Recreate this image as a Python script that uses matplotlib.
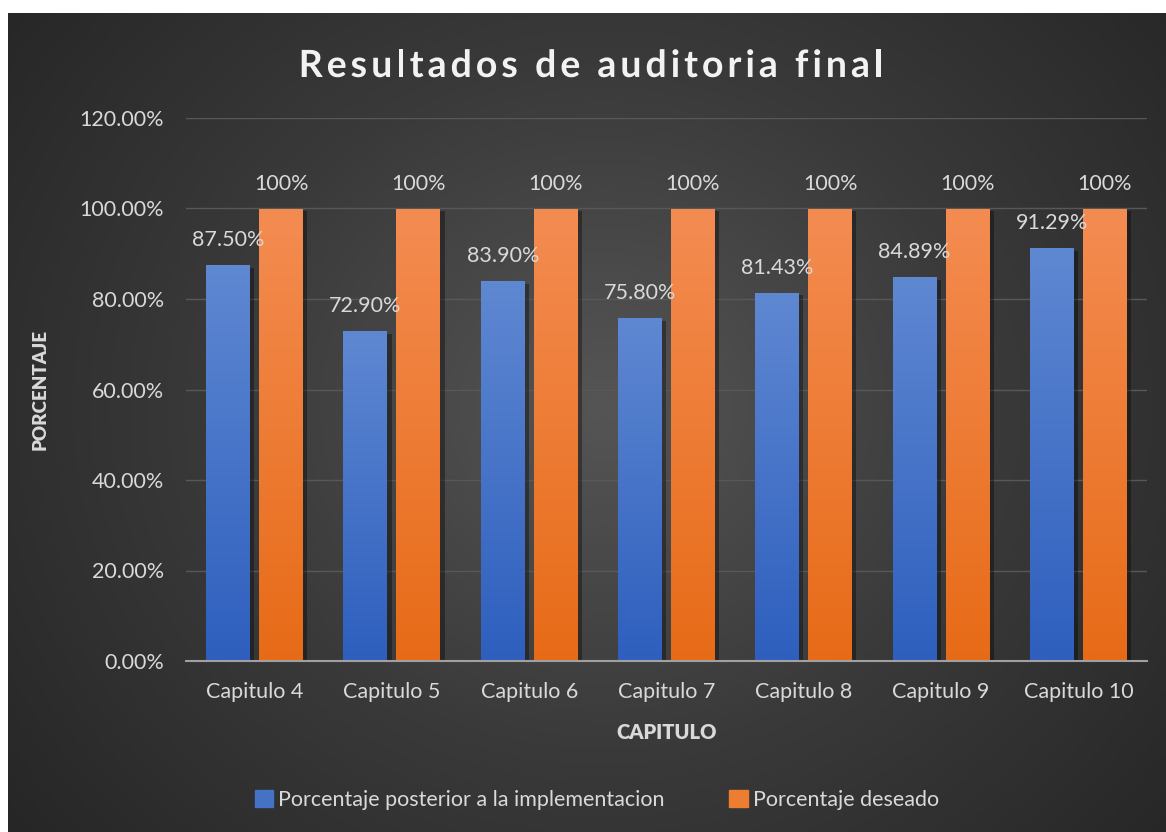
import matplotlib.pyplot as plt
import matplotlib.patheffects as pe
import numpy as np
from matplotlib.colors import LinearSegmentedColormap
from matplotlib.patches import Patch

plt.rcParams['font.family'] = ['Lato', 'DejaVu Sans']

# data
capitulos = ["Capitulo 4", "Capitulo 5", "Capitulo 6", "Capitulo 7",
             "Capitulo 8", "Capitulo 9", "Capitulo 10"]
posterior = [87.50, 72.90, 83.90, 75.80, 81.43, 84.89, 91.29]
deseado = [100, 100, 100, 100, 100, 100, 100]
yticks = [0, 20, 40, 60, 80, 100, 120]
titulo = "Resultados de auditoria final"

W, H = 1166, 832
TXT = "#d9d9d9"
FS = 15.5
fig = plt.figure(figsize=(W / 100, H / 100), dpi=100, facecolor="white")

# dark radial background
bg = fig.add_axes([8 / W, 0, 1 - 8 / W, 1 - 13 / H])
yy, xx = np.mgrid[0:1:300j, 0:1.4:420j]
r = np.sqrt((xx - 0.72) ** 2 + ((yy - 0.52) * 1.1) ** 2)
r = np.clip(r / r.max(), 0, 1)
bg_cmap = LinearSegmentedColormap.from_list("bg", ["#555555", "#3a3a3a", "#262626"])
bg.imshow(r, cmap=bg_cmap, aspect="auto", extent=[0, 1, 0, 1], origin="lower")
bg.set_axis_off()

ax = fig.add_axes([186 / W, 1 - 661 / H, (1147 - 186) / W, (661 - 118) / H])
ax.set_facecolor("none")

x = np.arange(len(capitulos))
off = 0.193
bw = 0.32
b1 = ax.bar(x - off, posterior, bw, color="#4472c4", zorder=3)
b2 = ax.bar(x + off, deseado, bw, color="#ed7d31", zorder=3)

blue_cm = LinearSegmentedColormap.from_list("b", ["#2e5fbe", "#5f88d2"])
orange_cm = LinearSegmentedColormap.from_list("o", ["#e76b17", "#f48c52"])
grad = np.linspace(0, 1, 256).reshape(-1, 1)
shadow = [pe.SimplePatchShadow(offset=(3, -2), shadow_rgbFace="black", alpha=0.35)]
for bars, cm in [(b1, blue_cm), (b2, orange_cm)]:
    for rect in bars:
        rect.set_path_effects(shadow)
        x0, y0 = rect.get_x(), rect.get_y()
        w, h = rect.get_width(), rect.get_height()
        im = ax.imshow(grad, cmap=cm, aspect="auto", origin="lower",
                       extent=[x0, x0 + w, y0, y0 + h], zorder=4)
        im.set_clip_path(rect)

for rect, v in zip(b1, posterior):
    ax.annotate(f"{v:.2f}%", (rect.get_x() + rect.get_width() / 2, v),
                xytext=(0, 18), textcoords="offset points", ha="center",
                va="center", color=TXT, fontsize=FS, zorder=6)
for rect, v in zip(b2, deseado):
    ax.annotate(f"{v}%", (rect.get_x() + rect.get_width() / 2, v),
                xytext=(0, 18), textcoords="offset points", ha="center",
                va="center", color=TXT, fontsize=FS, zorder=6)

ax.set_xlim(-0.5, len(capitulos) - 0.5)
ax.set_ylim(0, 120)
ax.set_yticks(yticks)
ax.set_yticklabels([f"{t:.2f}%" for t in yticks])
ax.set_xticks(x)
ax.set_xticklabels(capitulos)
ax.tick_params(axis="both", length=0, colors=TXT, labelsize=FS)
ax.tick_params(axis="y", pad=16)
ax.tick_params(axis="x", pad=15)
ax.grid(axis="y", color="#585858", linewidth=1, zorder=0)
for s in ["top", "right", "left"]:
    ax.spines[s].set_visible(False)
ax.spines["bottom"].set_color("#a0a0a0")
ax.spines["bottom"].set_linewidth(1.5)
ax.spines["bottom"].set_zorder(5)

ax.set_ylabel("PORCENTAJE", color=TXT, fontsize=13.5,
              fontweight="heavy", labelpad=22)
ax.set_xlabel("CAPITULO", color=TXT, fontsize=14.5,
              fontweight="heavy", labelpad=15)

# letter-spaced title
renderer = fig.canvas.get_renderer()
tkw = dict(fontsize=27, fontweight="bold", color="#f2f2f2", va="center")
def text_w(s):
    t = fig.text(0, 0, s, **tkw)
    wpx = t.get_window_extent(renderer).width
    t.remove()
    return wpx
spacing = 4.0
w_x = text_w("x")
starts = [text_w(titulo[:i] + "x") - w_x for i in range(len(titulo))]
total = text_w(titulo) + spacing * (len(titulo) - 1)
left = 591 - total / 2
for i, ch in enumerate(titulo):
    if ch == " ":
        continue
    px = left + starts[i] + spacing * i
    fig.text(px / W, 1 - 66 / H, ch, ha="left",
             path_effects=[pe.SimpleLineShadow(offset=(1, -2), alpha=0.3), pe.Normal()],
             **tkw)

handles = [Patch(color="#4472c4"), Patch(color="#ed7d31")]
leg = fig.legend(handles, ["Porcentaje posterior a la implementacion",
                           "Porcentaje deseado"],
                 loc="center", bbox_to_anchor=(0.512, 1 - 800 / H), ncol=2,
                 frameon=False, fontsize=FS, handlelength=0.85,
                 handleheight=0.85, handletextpad=0.25, columnspacing=3.0)
for t in leg.get_texts():
    t.set_color(TXT)

fig.savefig("out.png", dpi=100, facecolor="white")
